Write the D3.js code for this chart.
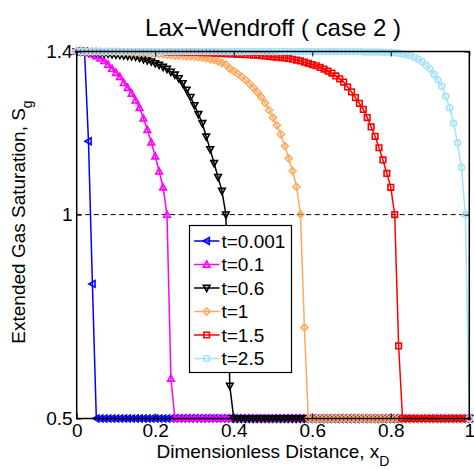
<!DOCTYPE html>
<html>
<head>
<meta charset="utf-8">
<script src="https://cdn.jsdelivr.net/npm/d3@7"></script>
<style>
  html, body { margin: 0; padding: 0; background: #fff; }
  svg { display: block; font-family: "Liberation Sans", Arial, Helvetica, sans-serif; }
</style>
</head>
<body>
<svg id="chart" width="474" height="470"></svg>
<script>
// ---------------- DATA ----------------
const xD = [0.00,0.01,0.02,0.03,0.04,0.05,0.06,0.07,0.08,0.09,
            0.10,0.11,0.12,0.13,0.14,0.15,0.16,0.17,0.18,0.19,
            0.20,0.21,0.22,0.23,0.24,0.25,0.26,0.27,0.28,0.29,
            0.30,0.31,0.32,0.33,0.34,0.35,0.36,0.37,0.38,0.39,
            0.40,0.41,0.42,0.43,0.44,0.45,0.46,0.47,0.48,0.49,
            0.50,0.51,0.52,0.53,0.54,0.55,0.56,0.57,0.58,0.59,
            0.60,0.61,0.62,0.63,0.64,0.65,0.66,0.67,0.68,0.69,
            0.70,0.71,0.72,0.73,0.74,0.75,0.76,0.77,0.78,0.79,
            0.80,0.81,0.82,0.83,0.84,0.85,0.86,0.87,0.88,0.89,
            0.90,0.91,0.92,0.93,0.94,0.95,0.96,0.97,0.98,0.99,
            1.00];

const seriesNames = ["t=0.001", "t=0.1", "t=0.6", "t=1", "t=1.5", "t=2.5"];

const sT0001 = [1.4,1.4,1.4,1.18,0.83,0.5,0.5,0.5,0.5,0.5,
                0.5,0.5,0.5,0.5,0.5,0.5,0.5,0.5,0.5,0.5,
                0.5,0.5,0.5,0.5,0.5,0.5,0.5,0.5,0.5,0.5,
                0.5,0.5,0.5,0.5,0.5,0.5,0.5,0.5,0.5,0.5,
                0.5,0.5,0.5,0.5,0.5,0.5,0.5,0.5,0.5,0.5,
                0.5,0.5,0.5,0.5,0.5,0.5,0.5,0.5,0.5,0.5,
                0.5,0.5,0.5,0.5,0.5,0.5,0.5,0.5,0.5,0.5,
                0.5,0.5,0.5,0.5,0.5,0.5,0.5,0.5,0.5,0.5,
                0.5,0.5,0.5,0.5,0.5,0.5,0.5,0.5,0.5,0.5,
                0.5,0.5,0.5,0.5,0.5,0.5,0.5,0.5,0.5,0.5,
                0.5];

const sT01 = [1.4,1.4,1.398,1.396,1.393,1.389,1.383,1.377,1.368,1.358,
              1.348,1.338,1.323,1.311,1.297,1.28,1.262,1.236,1.208,1.177,
              1.143,1.106,1.067,1.0,0.598,0.5,0.5,0.5,0.5,0.5,
              0.5,0.5,0.5,0.5,0.5,0.5,0.5,0.5,0.5,0.5,
              0.5,0.5,0.5,0.5,0.5,0.5,0.5,0.5,0.5,0.5,
              0.5,0.5,0.5,0.5,0.5,0.5,0.5,0.5,0.5,0.5,
              0.5,0.5,0.5,0.5,0.5,0.5,0.5,0.5,0.5,0.5,
              0.5,0.5,0.5,0.5,0.5,0.5,0.5,0.5,0.5,0.5,
              0.5,0.5,0.5,0.5,0.5,0.5,0.5,0.5,0.5,0.5,
              0.5,0.5,0.5,0.5,0.5,0.5,0.5,0.5,0.5,0.5,
              0.5];

const sT06 = [1.4,1.4,1.4,1.399,1.398,1.397,1.396,1.395,1.394,1.393,
              1.392,1.391,1.390,1.389,1.388,1.387,1.384,1.381,1.378,1.375,
              1.371,1.367,1.362,1.357,1.350,1.343,1.334,1.322,1.306,1.288,
              1.268,1.246,1.224,1.191,1.160,1.126,1.092,1.058,1.0,0.58,
              0.5,0.5,0.5,0.5,0.5,0.5,0.5,0.5,0.5,0.5,
              0.5,0.5,0.5,0.5,0.5,0.5,0.5,0.5,0.5,0.5,
              0.5,0.5,0.5,0.5,0.5,0.5,0.5,0.5,0.5,0.5,
              0.5,0.5,0.5,0.5,0.5,0.5,0.5,0.5,0.5,0.5,
              0.5,0.5,0.5,0.5,0.5,0.5,0.5,0.5,0.5,0.5,
              0.5,0.5,0.5,0.5,0.5,0.5,0.5,0.5,0.5,0.5,
              0.5];

const sT1 = [1.4,1.4,1.4,1.4,1.4,1.4,1.399,1.399,1.399,1.399,
             1.399,1.398,1.398,1.398,1.397,1.397,1.396,1.396,1.395,1.395,
             1.394,1.394,1.393,1.392,1.391,1.390,1.390,1.389,1.388,1.388,
             1.387,1.386,1.385,1.383,1.381,1.379,1.376,1.372,1.368,1.358,
             1.352,1.345,1.338,1.330,1.321,1.311,1.300,1.288,1.274,1.256,
             1.238,1.219,1.197,1.168,1.138,1.107,1.068,1.0,0.723,0.5,
             0.5,0.5,0.5,0.5,0.5,0.5,0.5,0.5,0.5,0.5,
             0.5,0.5,0.5,0.5,0.5,0.5,0.5,0.5,0.5,0.5,
             0.5,0.5,0.5,0.5,0.5,0.5,0.5,0.5,0.5,0.5,
             0.5,0.5,0.5,0.5,0.5,0.5,0.5,0.5,0.5,0.5,
             0.5];

const sT15 = [1.4,1.4,1.4,1.4,1.4,1.4,1.4,1.4,1.4,1.4,
              1.4,1.4,1.4,1.4,1.4,1.4,1.4,1.4,1.4,1.4,
              1.4,1.4,1.4,1.399,1.399,1.399,1.399,1.399,1.398,1.398,
              1.398,1.398,1.397,1.397,1.397,1.396,1.396,1.395,1.395,1.394,
              1.394,1.393,1.393,1.392,1.392,1.391,1.391,1.390,1.389,1.388,
              1.387,1.386,1.385,1.384,1.383,1.381,1.379,1.377,1.374,1.371,
              1.368,1.365,1.361,1.357,1.352,1.347,1.340,1.333,1.325,1.313,
              1.301,1.287,1.273,1.258,1.238,1.215,1.192,1.164,1.134,1.101,
              1.067,1.0,0.678,0.5,0.5,0.5,0.5,0.5,0.5,0.5,
              0.5,0.5,0.5,0.5,0.5,0.5,0.5,0.5,0.5,0.5,
              0.5];

const sT25 = [1.4,1.4,1.4,1.4,1.4,1.4,1.4,1.4,1.4,1.4,
              1.4,1.4,1.4,1.4,1.4,1.4,1.4,1.4,1.4,1.4,
              1.4,1.4,1.4,1.4,1.4,1.4,1.4,1.4,1.4,1.4,
              1.4,1.4,1.4,1.4,1.4,1.4,1.4,1.4,1.4,1.4,
              1.4,1.4,1.4,1.4,1.4,1.4,1.4,1.4,1.4,1.4,
              1.4,1.4,1.4,1.4,1.4,1.4,1.4,1.4,1.4,1.4,
              1.4,1.4,1.4,1.4,1.4,1.4,1.4,1.4,1.4,1.4,
              1.4,1.4,1.4,1.399,1.399,1.399,1.399,1.399,1.398,1.398,
              1.398,1.397,1.396,1.394,1.392,1.390,1.386,1.381,1.375,1.366,
              1.357,1.344,1.330,1.315,1.290,1.262,1.224,1.176,1.116,1.0,
              0.5];

const xTicks = [0, 0.2, 0.4, 0.6, 0.8, 1];
const xTickLabels = ["0", "0.2", "0.4", "0.6", "0.8", "1"];
const yTicks = [0.5, 1, 1.4];
const yTickLabels = ["0.5", "1", "1.4"];
const refLevel = 1;

const titleText = "Lax\u2212Wendroff ( case 2 )";
const xLabelMain = "Dimensionless Distance, x";
const xLabelSub = "D";
const yLabelMain = "Extended Gas Saturation, S";
const yLabelSub = "g";

// ---------------- STYLE ----------------
const colors = ["#0000ff", "#ff00ff", "#000000", "#ffa95e", "#ff0000", "#a3e3f9"];
const markers = ["triLeft", "triUp", "triDown", "diamond", "square", "circle"];
const allSeries = [sT0001, sT01, sT06, sT1, sT15, sT25];

const pLeft = 76.7, pRight = 469.3, pTop = 51.5, pBottom = 418.5;
const x = d3.scaleLinear().domain([0, 1]).range([pLeft, pRight]);
const y = d3.scaleLinear().domain([0.5, 1.4]).range([pBottom, pTop]);

const svg = d3.select("#chart");

function markerPath(type, r) {
  switch (type) {
    case "triUp":   return `M0,${-r}L${r*0.95},${r*0.75}L${-r*0.95},${r*0.75}Z`;
    case "triDown": return `M0,${r}L${r*0.95},${-r*0.75}L${-r*0.95},${-r*0.75}Z`;
    case "triLeft": return `M${-r},0L${r*0.75},${-r*0.95}L${r*0.75},${r*0.95}Z`;
    case "diamond": return `M0,${-r}L${r},0L0,${r}L${-r},0Z`;
    case "square":  { const s = r*0.8; return `M${-s},${-s}H${s}V${s}H${-s}Z`; }
    case "circle":  { const c = r*0.85; return `M${c},0A${c},${c} 0 1,1 ${-c},0A${c},${c} 0 1,1 ${c},0Z`; }
  }
}

const markerR = 3.5;

// reference dashed line
svg.append("line")
  .attr("x1", x(0)).attr("x2", x(1))
  .attr("y1", y(refLevel)).attr("y2", y(refLevel))
  .attr("stroke", "#000").attr("stroke-width", 1)
  .attr("stroke-dasharray", "5,3.5");

const plot = svg.append("g");
const line = d3.line().x((d, i) => x(xD[i])).y(d => y(d));

allSeries.forEach((vals, k) => {
  const g = plot.append("g");
  g.append("path").datum(vals)
    .attr("d", line)
    .attr("fill", "none")
    .attr("stroke", colors[k])
    .attr("stroke-width", 1.5)
    .attr("stroke-linejoin", "round");
  g.selectAll("path.m").data(vals).join("path")
    .attr("class", "m")
    .attr("transform", (d, i) => `translate(${x(xD[i])},${y(d)})`)
    .attr("d", markerPath(markers[k], markerR))
    .attr("fill", "none")
    .attr("stroke", colors[k])
    .attr("stroke-width", 1.6);
});

// axes
const fontSize = 19;
const xAxis = d3.axisBottom(x).tickValues(xTicks)
  .tickFormat((d, i) => xTickLabels[i]).tickSizeInner(-5).tickSizeOuter(0).tickPadding(5);
const yAxis = d3.axisLeft(y).tickValues(yTicks)
  .tickFormat((d, i) => yTickLabels[i]).tickSizeInner(-5).tickSizeOuter(0).tickPadding(4);

const gx = svg.append("g").attr("transform", `translate(0,${pBottom})`).call(xAxis);
const gy = svg.append("g").attr("transform", `translate(${pLeft},0)`).call(yAxis);
const gxt = svg.append("g").attr("transform", `translate(0,${pTop})`)
  .call(d3.axisTop(x).tickValues(xTicks).tickFormat("").tickSizeInner(-5).tickSizeOuter(0));
const gyr = svg.append("g").attr("transform", `translate(${pRight},0)`)
  .call(d3.axisRight(y).tickValues(yTicks).tickFormat("").tickSizeInner(-5).tickSizeOuter(0));

[gx, gy, gxt, gyr].forEach(g => {
  g.select(".domain").remove();
  g.selectAll(".tick line").attr("stroke", "#000").attr("stroke-width", 1);
  g.selectAll(".tick text").attr("fill", "#000")
    .style("font-size", fontSize + "px")
    .style("font-family", "'Liberation Sans', Arial, sans-serif");
});

// box
svg.append("rect")
  .attr("x", pLeft).attr("y", pTop)
  .attr("width", pRight - pLeft).attr("height", pBottom - pTop)
  .attr("fill", "none").attr("stroke", "#000").attr("stroke-width", 1.5);

// legend
const lg = svg.append("g");
const lx0 = 189.5, ly0 = 225.5, lw = 102, lh = 147;
lg.append("rect").attr("x", lx0).attr("y", ly0).attr("width", lw).attr("height", lh)
  .attr("fill", "#fff").attr("stroke", "#000").attr("stroke-width", 1.2);
seriesNames.forEach((name, k) => {
  const cy = ly0 + 15.5 + k * 23.5;
  lg.append("line").attr("x1", lx0 + 4.5).attr("x2", lx0 + 30)
    .attr("y1", cy).attr("y2", cy)
    .attr("stroke", colors[k]).attr("stroke-width", 1.5);
  lg.append("path").attr("transform", `translate(${lx0 + 17.2},${cy})`)
    .attr("d", markerPath(markers[k], markerR))
    .attr("fill", "none").attr("stroke", colors[k]).attr("stroke-width", 1.6);
  lg.append("text").attr("x", lx0 + 32).attr("y", cy).attr("dy", "0.35em")
    .style("font-size", "19px").attr("fill", "#000").text(name);
});

// title
svg.append("text").attr("x", (pLeft + pRight) / 2).attr("y", 36)
  .attr("text-anchor", "middle").style("font-size", "24px").attr("fill", "#000")
  .text(titleText);

// x label
const xl = svg.append("text").attr("x", (pLeft + pRight) / 2).attr("y", 458)
  .attr("text-anchor", "middle").style("font-size", "19px").attr("fill", "#000");
xl.append("tspan").text(xLabelMain);
xl.append("tspan").attr("dy", 8).style("font-size", "14px").text(xLabelSub);

// y label
const yl = svg.append("text").attr("transform", "translate(25,222) rotate(-90)")
  .attr("text-anchor", "middle").style("font-size", "19px").attr("fill", "#000");
yl.append("tspan").text(yLabelMain);
yl.append("tspan").attr("dy", 7).style("font-size", "14px").text(yLabelSub);
</script>
</body>
</html>
